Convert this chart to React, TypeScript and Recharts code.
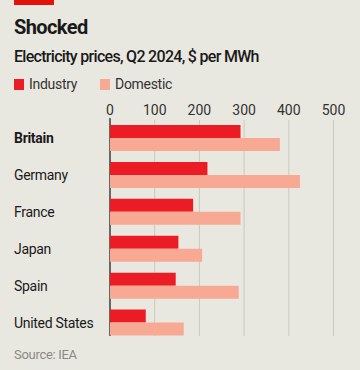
import React from "react";
import { BarChart, Bar, XAxis, YAxis, CartesianGrid } from "recharts";

const countries = ["Britain", "Germany", "France", "Japan", "Spain", "United States"];
const industry = [292, 218, 186, 153, 147, 80];
const domestic = [380, 425, 292, 206, 288, 165];
const xTicks = [0, 100, 200, 300, 400, 500];

const RED = "#ec1c24";
const PINK = "#f7a994";
const BG = "#e9e8e0";
const INK = "#1a1a1a";
const FONT = "Roboto, sans-serif";

const data = countries.map((name, i) => ({
  name,
  industry: industry[i],
  domestic: domestic[i],
}));

const CountryTick = (props: any) => {
  const { y, payload } = props;
  return (
    <text
      x={14}
      y={y}
      dy="0.36em"
      fontSize={14}
      fontFamily={FONT}
      fontWeight={payload.value === "Britain" ? 700 : 400}
      letterSpacing={-0.3}
      fill={INK}
    >
      {payload.value}
    </text>
  );
};

// grid line at 0 doubles as the axis; lines stop short of the bottom like the original
const GridLine = (props: any) => {
  const { x1, y1, x2, y2, index } = props;
  const isAxis = index === 0;
  return (
    <line
      key={`g-${index}`}
      x1={x1}
      x2={x2}
      y1={isAxis ? y1 - 2 : y1}
      y2={y2 - 5.5}
      stroke={isAxis ? "#222" : "#c9c9c2"}
      strokeWidth={isAxis ? 1.3 : 1}
    />
  );
};

const Swatch = ({ color, label, left }: { color: string; label: string; left: number }) => (
  <div style={{ position: "absolute", left, top: 77, display: "flex", alignItems: "center" }}>
    <span style={{ width: 10, height: 11, background: color, display: "inline-block", marginRight: 5 }} />
    <span style={{ fontSize: 14, lineHeight: "14px", color: "#333", letterSpacing: -0.3 }}>{label}</span>
  </div>
);

export default function App() {
  return (
    <div
      style={{
        position: "absolute",
        left: 0,
        top: 0,
        width: 360,
        height: 370,
        background: BG,
        fontFamily: FONT,
        color: INK,
        overflow: "hidden",
      }}
    >
      <div style={{ position: "absolute", left: 14, top: 0, width: 40, height: 5, background: "#e3120b" }} />
      <div style={{ position: "absolute", left: 14, top: 16, fontSize: 20, lineHeight: "22px", fontWeight: 700, letterSpacing: -0.6 }}>
        Shocked
      </div>
      <div style={{ position: "absolute", left: 14, top: 48, fontSize: 16, lineHeight: "18px", fontWeight: 500, letterSpacing: -0.7 }}>
        Electricity prices, Q2 2024, $ per MWh
      </div>
      <Swatch color={RED} label="Industry" left={14} />
      <Swatch color={PINK} label="Domestic" left={100} />

      <div style={{ position: "absolute", left: 0, top: 0 }}>
        <BarChart
          width={360}
          height={370}
          data={data}
          layout="vertical"
          margin={{ top: 100, right: 26.5, left: 0, bottom: 28.5 }}
          barGap={0}
          barSize={13}
        >
          <CartesianGrid horizontal={false} vertical={GridLine} />
          <XAxis
            type="number"
            orientation="top"
            domain={[0, 500]}
            ticks={xTicks}
            height={20}
            axisLine={false}
            tickLine={false}
            tickSize={0}
            tickMargin={5}
            tick={{ fontSize: 14, fill: "#333", fontFamily: FONT }}
            interval={0}
          />
          <YAxis
            type="category"
            dataKey="name"
            width={110}
            axisLine={false}
            tickLine={false}
            tick={<CountryTick />}
            interval={0}
          />
          <Bar dataKey="industry" fill={RED} isAnimationActive={false} />
          <Bar dataKey="domestic" fill={PINK} isAnimationActive={false} />
        </BarChart>
      </div>

      <div style={{ position: "absolute", left: 14, top: 347, fontSize: 13, lineHeight: "15px", color: "#8a8a85", letterSpacing: -0.3 }}>
        Source: IEA
      </div>
    </div>
  );
}
